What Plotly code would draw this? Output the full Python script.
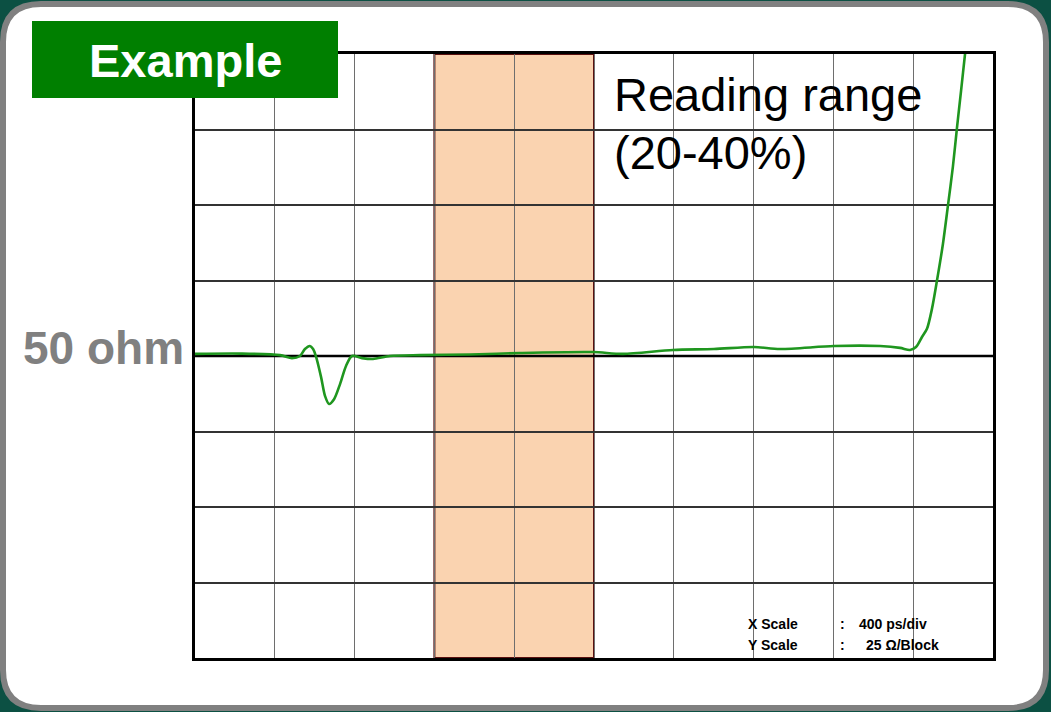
import plotly.graph_objects as go

# ---- data (TDR trace) ----
time_ps = [0, 226, 426, 486, 526, 551, 576, 592, 607, 632, 652, 672, 697, 727, 757, 787,
           837, 892, 977, 1128, 1378, 1629, 1995, 2145, 2396, 2601, 2802, 2932, 3203, 3434,
           3534, 3584, 3614, 3644, 3669, 3694, 3719, 3749, 3774, 3799, 3819, 3840, 3860, 3880]
impedance_ohm = [50.7, 50.8, 50.3, 49.3, 50.0, 52.3, 53.3, 52.3, 49.7, 43.0, 36.7, 34.1, 35.7,
                 40.7, 46.7, 50.0, 49.3, 49.0, 50.0, 50.3, 50.5, 51.0, 51.3, 50.7, 52.0, 52.3,
                 53.0, 52.3, 53.3, 53.3, 52.7, 52.0, 53.0, 56.3, 59.0, 65.6, 74.9, 87.1, 99.7,
                 112.7, 125.3, 137.9, 150.1, 161.7]

x_range_ps = [0, 4000]          # 10 div x 400 ps/div
y_range_ohm = [-50, 150]        # 8 blocks x 25 ohm/block
x_div = 400
y_block = 25
ref_ohm = 50
reading_window_ps = [1200, 2000]

title_text = "Example"
ref_label = "50 ohm"
range_label = ["Reading range", "(20-40%)"]
scale_names = ["X Scale", "Y Scale"]
scale_values = ["400 ps/div", "25 \u03a9/Block"]

# ---- geometry helpers (pixel -> paper) ----
W, H = 1051, 712
L, R, T, B = 195, 993, 54, 658
PW, PH = R - L, B - T


def px(x):
    return (x - L) / PW


def py(y):
    return (B - y) / PH


fig = go.Figure()
# 50 ohm reference line (drawn beneath the trace)
fig.add_trace(go.Scatter(
    x=x_range_ps, y=[ref_ohm, ref_ohm], mode="lines",
    line=dict(color="black", width=2.6), hoverinfo="skip", showlegend=False,
))
fig.add_trace(go.Scatter(
    x=time_ps, y=impedance_ohm, mode="lines",
    line=dict(color="#1f961f", width=2.6, shape="spline", smoothing=0.8),
    hoverinfo="skip", showlegend=False,
))

shapes = []
# rounded white panel with gray border
l, r, t, b, rad = 3, 1046, 4, 708, 38
path = (
    f"M {px(l+rad)},{py(t)} L {px(r-rad)},{py(t)} Q {px(r)},{py(t)} {px(r)},{py(t+rad)} "
    f"L {px(r)},{py(b-rad)} Q {px(r)},{py(b)} {px(r-rad)},{py(b)} "
    f"L {px(l+rad)},{py(b)} Q {px(l)},{py(b)} {px(l)},{py(b-rad)} "
    f"L {px(l)},{py(t+rad)} Q {px(l)},{py(t)} {px(l+rad)},{py(t)} Z"
)
shapes.append(dict(type="path", path=path, xref="paper", yref="paper",
                   fillcolor="white", line=dict(color="#808080", width=6), layer="below"))
# reading window
shapes.append(dict(type="rect", xref="x", yref="y",
                   x0=reading_window_ps[0], x1=reading_window_ps[1],
                   y0=y_range_ohm[0], y1=y_range_ohm[1],
                   fillcolor="#fad3b0", line=dict(color="#5a1010", width=2), layer="below"))
# Example badge
shapes.append(dict(type="rect", xref="paper", yref="paper",
                   x0=px(32), x1=px(338), y0=py(98), y1=py(21),
                   fillcolor="#007f00", line=dict(width=0), layer="above"))

annotations = [
    dict(text=f"<b>{title_text}</b>", x=px(185), y=py(60), xref="paper", yref="paper",
         xanchor="center", yanchor="middle", showarrow=False,
         font=dict(family="Liberation Sans, Arial", size=47, color="white")),
    dict(text=f"<b>{ref_label}</b>", x=px(186), y=py(348), xref="paper", yref="paper",
         xanchor="right", yanchor="middle", showarrow=False,
         font=dict(family="Liberation Sans, Arial", size=46, color="#808080")),
    dict(text=range_label[0], x=px(612), y=py(94), xref="paper", yref="paper",
         xanchor="left", yanchor="middle", showarrow=False,
         font=dict(family="Liberation Sans, Arial", size=47, color="black")),
    dict(text=range_label[1], x=px(612), y=py(152), xref="paper", yref="paper",
         xanchor="left", yanchor="middle", showarrow=False,
         font=dict(family="Liberation Sans, Arial", size=47, color="black")),
]
scale_font = dict(family="Liberation Sans Narrow, Arial Narrow, Liberation Sans", size=14, color="black")
for i, (name, val) in enumerate(zip(scale_names, scale_values)):
    yc = 624 + 21 * i
    annotations.append(dict(text=f"<b>{name}</b>", x=px(746), y=py(yc), xref="paper", yref="paper",
                            xanchor="left", yanchor="middle", showarrow=False, font=scale_font))
    annotations.append(dict(text="<b>:</b>", x=px(838), y=py(yc), xref="paper", yref="paper",
                            xanchor="left", yanchor="middle", showarrow=False, font=scale_font))
    annotations.append(dict(text=f"<b>{val}</b>", x=px(857 if i == 0 else 864), y=py(yc),
                            xref="paper", yref="paper",
                            xanchor="left", yanchor="middle", showarrow=False, font=scale_font))

fig.update_layout(
    width=W, height=H,
    margin=dict(l=L, r=W - R, t=T, b=H - B, pad=0, autoexpand=False),
    paper_bgcolor="#0c5043",
    plot_bgcolor="rgba(0,0,0,0)",
    shapes=shapes,
    annotations=annotations,
    showlegend=False,
    xaxis=dict(range=x_range_ps, dtick=x_div, tick0=0, showgrid=True, gridcolor="#6e6e6e",
               gridwidth=1.2, showticklabels=False, ticks="", zeroline=False,
               showline=True, mirror=True, linecolor="black", linewidth=2.5, fixedrange=True),
    yaxis=dict(range=y_range_ohm, dtick=y_block, tick0=0, showgrid=True, gridcolor="#333333",
               gridwidth=1.5, showticklabels=False, ticks="", zeroline=False,
               showline=True, mirror=True, linecolor="black", linewidth=2.5, fixedrange=True),
)

fig.write_html(
    "out.html",
    config={"displayModeBar": False},
    post_script="document.body.style.margin='0px';document.body.style.overflow='hidden';",
)
